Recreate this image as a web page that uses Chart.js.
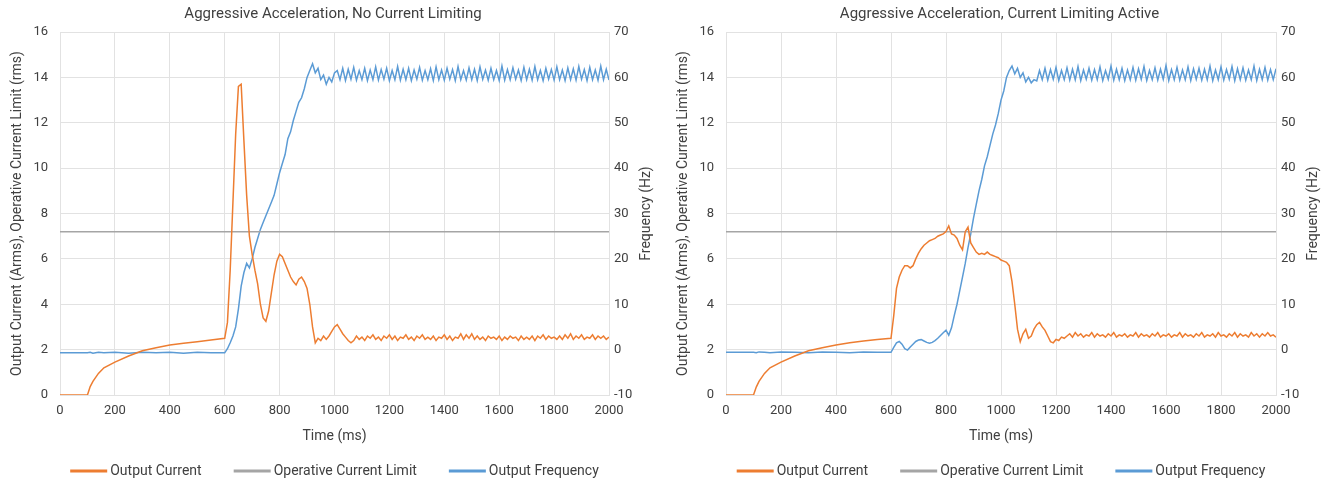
<!DOCTYPE html>
<html>
<head>
<meta charset="utf-8">
<script src="https://cdn.jsdelivr.net/npm/chart.js@4"></script>
<style>
  body { margin: 0; background: #fff; }
  .wrap { display: flex; width: 1333px; height: 485px; }
  .box { position: relative; height: 485px; }
</style>
</head>
<body>
<div class="wrap">
  <div class="box" style="width:666px"><canvas id="chart1"></canvas></div>
  <div class="box" style="width:667px"><canvas id="chart2"></canvas></div>
</div>
<script>
// sample times (ms), shared by all traces
const times = [0, 100, 110, 120, 140, 160, 200, 250, 300, 350, 400, 450, 500, 550, 600,
  610, 620, 630, 640, 650, 660, 670, 680, 690, 700, 710, 720, 730, 740, 750, 760, 770, 780, 790, 800,
  810, 820, 830, 840, 850, 860, 870, 880, 890, 900, 910, 920, 930, 940, 950, 960, 970, 980, 990, 1000,
  1010, 1020, 1030, 1040, 1050, 1060, 1070, 1080, 1090, 1100, 1110, 1120, 1130, 1140, 1150, 1160, 1170, 1180, 1190, 1200,
  1210, 1220, 1230, 1240, 1250, 1260, 1270, 1280, 1290, 1300, 1310, 1320, 1330, 1340, 1350, 1360, 1370, 1380, 1390, 1400,
  1410, 1420, 1430, 1440, 1450, 1460, 1470, 1480, 1490, 1500, 1510, 1520, 1530, 1540, 1550, 1560, 1570, 1580, 1590, 1600,
  1610, 1620, 1630, 1640, 1650, 1660, 1670, 1680, 1690, 1700, 1710, 1720, 1730, 1740, 1750, 1760, 1770, 1780, 1790, 1800,
  1810, 1820, 1830, 1840, 1850, 1860, 1870, 1880, 1890, 1900, 1910, 1920, 1930, 1940, 1950, 1960, 1970, 1980, 1990, 2000];

// chart 1: no current limiting
const current1 = [0, 0, 0.37, 0.6, 0.95, 1.2, 1.45, 1.72, 1.95, 2.08, 2.2, 2.28, 2.35, 2.42, 2.5,
  3.2, 5.5, 8.5, 11.5, 13.6, 13.7, 11.2, 8.8, 7.0, 6.2, 5.5, 4.9, 4.0, 3.4, 3.25, 3.7, 4.5, 5.3, 5.9, 6.2,
  6.1, 5.8, 5.5, 5.2, 5.0, 4.85, 5.1, 5.2, 5.0, 4.7, 4.0, 3.0, 2.3, 2.5, 2.4, 2.6, 2.45, 2.6, 2.8, 3.0,
  3.1, 2.9, 2.7, 2.55, 2.4, 2.3, 2.4,
  2.6, 2.45, 2.55, 2.4, 2.6, 2.5, 2.65, 2.45, 2.55, 2.4,
  2.6, 2.5, 2.65, 2.45, 2.6, 2.4, 2.55, 2.5, 2.65, 2.45,
  2.55, 2.4, 2.6, 2.5, 2.65, 2.45, 2.55, 2.45, 2.6, 2.4,
  2.55, 2.5, 2.65, 2.45, 2.6, 2.4, 2.55, 2.5, 2.7, 2.45,
  2.65, 2.5, 2.7, 2.45, 2.6, 2.45, 2.55, 2.4, 2.6, 2.5,
  2.55, 2.45, 2.6, 2.4, 2.55, 2.45, 2.6, 2.5, 2.55, 2.4,
  2.6, 2.45, 2.55, 2.45, 2.6, 2.4, 2.6, 2.5, 2.65, 2.45,
  2.6, 2.5, 2.55, 2.45, 2.6, 2.45, 2.65, 2.5, 2.7, 2.45,
  2.6, 2.5, 2.65, 2.45, 2.55, 2.5, 2.65, 2.45, 2.6, 2.5,
  2.6, 2.45, 2.55];
const freq1 = [-0.7, -0.7, -0.6, -0.8, -0.6, -0.7, -0.6, -0.8, -0.6, -0.7, -0.6, -0.8, -0.6, -0.7, -0.7,
  0.2, 1.5, 3.0, 5, 9, 14, 17, 19, 18, 20, 22.5, 24.5, 26.5, 28, 29.5, 31, 32.5, 34, 36.5, 39,
  41, 43, 46.5, 48, 50.5, 52.5, 54.5, 55.5, 57.5, 60, 61.5, 63, 61, 62, 59.5, 60.5, 58.5, 60, 59, 61,
  61.5, 59.5, 62, 59.3, 61.8, 59.6, 62.2, 59.4, 61.5, 59.5,
  62, 59.3, 61.6, 59.5, 62.3, 59.4, 61.7, 59.6, 62, 59.3,
  61.5, 59.5, 62.4, 59.4, 61.8, 59.5, 62, 59.3, 61.6, 59.6,
  62.2, 59.4, 61.5, 59.5, 61.9, 59.3, 62.3, 59.5, 61.6, 59.4,
  62, 59.6, 61.7, 59.3, 62.4, 59.5, 61.5, 59.4, 62.1, 59.5,
  61.8, 59.3, 62.3, 59.6, 61.6, 59.4, 62, 59.5, 61.5, 59.3,
  62.5, 59.4, 61.7, 59.5, 62.1, 59.6, 61.6, 59.3, 62.2, 59.5,
  61.8, 59.4, 62.4, 59.5, 61.5, 59.3, 62, 59.6, 61.7, 59.4,
  62.3, 59.5, 61.6, 59.3, 62.1, 59.5, 61.9, 59.4, 62.4, 59.6,
  61.7, 59.3, 62.2, 59.5, 61.6, 59.4, 62.5, 59.5, 61.8, 59.4];

// chart 2: current limiting active
const current2 = [0, 0, 0.35, 0.6, 0.95, 1.2, 1.45, 1.72, 1.95, 2.08, 2.2, 2.3, 2.38, 2.45, 2.5,
  3.5, 4.7, 5.2, 5.5, 5.7, 5.7, 5.6, 5.7, 6.0, 6.25, 6.45, 6.6, 6.7, 6.8, 6.85, 6.9, 7.0, 7.05, 7.1, 7.2,
  7.45, 7.1, 7.05, 6.9, 6.6, 6.4, 7.2, 7.4, 6.7, 6.5, 6.3, 6.2, 6.25, 6.2, 6.3, 6.2, 6.15, 6.1, 6.05, 5.95,
  5.9, 5.85, 5.7, 5.0, 4.0, 2.9, 2.35, 2.7, 2.9, 2.5, 2.6, 2.9, 3.1, 3.2, 3.0, 2.85, 2.6, 2.35, 2.3, 2.45,
  2.4, 2.55, 2.5,
  2.6, 2.7, 2.55, 2.75, 2.6, 2.7, 2.55, 2.65, 2.6, 2.75,
  2.55, 2.7, 2.6, 2.65, 2.55, 2.7, 2.6, 2.75, 2.55, 2.65,
  2.6, 2.7, 2.55, 2.65, 2.6, 2.75, 2.55, 2.7, 2.6, 2.65,
  2.55, 2.7, 2.6, 2.75, 2.55, 2.65, 2.6, 2.7, 2.55, 2.65,
  2.6, 2.75, 2.55, 2.7, 2.6, 2.65, 2.55, 2.7, 2.6, 2.75,
  2.55, 2.65, 2.6, 2.7, 2.55, 2.75, 2.6, 2.65, 2.55, 2.7,
  2.6, 2.75, 2.55, 2.7, 2.6, 2.65, 2.55, 2.75, 2.6, 2.7,
  2.55, 2.7, 2.6, 2.75, 2.6, 2.65, 2.55];
const freq2 = [-0.6, -0.6, -0.7, -0.5, -0.6, -0.7, -0.5, -0.6, -0.7, -0.5, -0.6, -0.7, -0.5, -0.6, -0.6,
  0.5, 1.5, 1.8, 1.2, 0.2, -0.1, 0.6, 1.2, 1.8, 2.1, 2.2, 1.9, 1.6, 1.4, 1.6, 2.0, 2.5, 3.1, 3.7, 4.3,
  3.2, 4.8, 7.5, 10, 13, 16, 19, 22.5, 25.5, 29, 32, 35, 37.5, 40.5, 42.5, 45, 47.5, 49.5, 52, 55,
  57, 60, 61.5, 62.5, 60.8, 62, 60, 61, 59, 60, 58.8, 59.5, 59.2,
  61.5, 59.5, 62, 59.4, 61.7, 59.6, 62.2, 59.3, 61.5, 59.5,
  62.1, 59.4, 61.8, 59.5, 62.4, 59.3, 61.6, 59.6, 62, 59.4,
  61.7, 59.5, 62.3, 59.3, 61.5, 59.6, 62.5, 59.4, 61.8, 59.5,
  62, 59.3, 61.6, 59.5, 62.2, 59.4, 61.9, 59.6, 62.4, 59.3,
  61.5, 59.5, 62.1, 59.4, 61.8, 59.6, 62.6, 59.3, 61.7, 59.5,
  62.2, 59.4, 61.6, 59.5, 62.3, 59.3, 61.9, 59.6, 62, 59.4,
  61.8, 59.5, 62.5, 59.3, 61.6, 59.5, 62.3, 59.4, 61.7, 59.6,
  62.4, 59.3, 61.9, 59.5, 62.1, 59.4, 61.6, 59.5, 62.5, 59.3,
  61.8, 59.5, 62.2, 59.4, 61.7, 59.5, 61.9];

// operative current limit (flat)
const limitTimes = [0, 2000];
const limit1 = [7.2, 7.2];
const limit2 = [7.2, 7.2];

const FONT = "'Roboto', sans-serif";
const TEXT = '#404040';
const GRID = '#E2E2E2';

function pts(xs, ys) {
    return xs.map((x, i) => ({ x: x, y: ys[i] }));
}

// legend drawn under the plot: line sample + label, centred on the plot area
const lineLegend = {
    id: 'lineLegend',
    afterDraw(chart) {
        const ctx = chart.ctx;
        const sets = chart.data.datasets;
        const sample = 37, gap = 3, spacing = 32;
        ctx.save();
        ctx.font = '14px ' + FONT;
        const widths = sets.map(d => ctx.measureText(d.label).width);
        let total = widths.reduce((a, b) => a + b, 0) + sets.length * (sample + gap) + spacing * (sets.length - 1);
        let x = (chart.chartArea.left + chart.chartArea.right) / 2 - total / 2;
        const y = chart.height - 14;
        ctx.textBaseline = 'middle';
        ctx.textAlign = 'left';
        sets.forEach((d, i) => {
            ctx.strokeStyle = d.borderColor;
            ctx.lineWidth = 3;
            ctx.beginPath();
            ctx.moveTo(x, y);
            ctx.lineTo(x + sample, y);
            ctx.stroke();
            ctx.fillStyle = TEXT;
            ctx.fillText(d.label, x + sample + gap, y);
            x += sample + gap + widths[i] + spacing;
        });
        ctx.restore();
    }
};

// right axis title, reading bottom to top like the left one
const freqTitle = {
    id: 'freqTitle',
    afterDraw(chart) {
        const ctx = chart.ctx;
        const a = chart.chartArea;
        ctx.save();
        ctx.font = '14px ' + FONT;
        ctx.fillStyle = TEXT;
        ctx.textAlign = 'center';
        ctx.textBaseline = 'middle';
        ctx.translate(a.right + 37, (a.top + a.bottom) / 2);
        ctx.rotate(-Math.PI / 2);
        ctx.fillText('Frequency (Hz)', 0, 0);
        ctx.restore();
    }
};

function drawChart(id, title, current, freq, limit) {
    const ctx = document.getElementById(id).getContext('2d');
    return new Chart(ctx, {
        type: 'line',
        data: {
            datasets: [{
                label: 'Output Current',
                data: pts(times, current),
                borderColor: '#ED7D31',
                backgroundColor: '#ED7D31',
                borderWidth: 1.5,
                yAxisID: 'y'
            }, {
                label: 'Operative Current Limit',
                data: pts(limitTimes, limit),
                borderColor: '#A5A5A5',
                backgroundColor: '#A5A5A5',
                borderWidth: 1.5,
                yAxisID: 'y'
            }, {
                label: 'Output Frequency',
                data: pts(times, freq),
                borderColor: '#5B9BD5',
                backgroundColor: '#5B9BD5',
                borderWidth: 1.5,
                yAxisID: 'y1'
            }]
        },
        plugins: [lineLegend, freqTitle],
        options: {
            responsive: true,
            maintainAspectRatio: false,
            animation: false,
            elements: { point: { radius: 0 }, line: { tension: 0 } },
            layout: { padding: { left: 0, right: 0, top: 0, bottom: 40 } },
            scales: {
                x: {
                    type: 'linear',
                    min: 0,
                    max: 2000,
                    ticks: {
                        stepSize: 200, color: TEXT, font: { family: FONT, size: 13 }, maxRotation: 0, padding: 8,
                        callback: function(value) { return String(value); }
                    },
                    grid: { color: GRID, drawTicks: false },
                    border: { color: GRID },
                    title: { display: true, text: 'Time (ms)', color: TEXT, font: { family: FONT, size: 14 }, padding: { top: 5, bottom: 0 } },
                    afterFit: function(axis) { axis.height = 50; }
                },
                y: {
                    position: 'left',
                    min: 0,
                    max: 16,
                    ticks: { stepSize: 2, color: TEXT, font: { family: FONT, size: 13 }, padding: 12 },
                    grid: { color: GRID, drawTicks: false },
                    border: { color: GRID },
                    title: { display: true, text: 'Output Current (Arms), Operative Current Limit (rms)', color: TEXT, font: { family: FONT, size: 14 }, padding: { top: 9, bottom: 0 } },
                    afterFit: function(axis) { axis.width = 60; }
                },
                y1: {
                    position: 'right',
                    min: -10,
                    max: 70,
                    ticks: { stepSize: 10, color: TEXT, font: { family: FONT, size: 13 }, padding: 5 },
                    grid: { display: false, drawTicks: false },
                    border: { color: GRID },
                    afterFit: function(axis) { axis.width = 57; }
                }
            },
            plugins: {
                title: {
                    display: true,
                    text: title,
                    color: TEXT,
                    font: { family: FONT, size: 15, weight: 'normal' },
                    padding: { top: 5, bottom: 9 }
                },
                legend: { display: false },
                tooltip: { enabled: false }
            }
        }
    });
}

drawChart('chart1', 'Aggressive Acceleration, No Current Limiting', current1, freq1, limit1);
drawChart('chart2', 'Aggressive Acceleration, Current Limiting Active', current2, freq2, limit2);
</script>
</body>
</html>
